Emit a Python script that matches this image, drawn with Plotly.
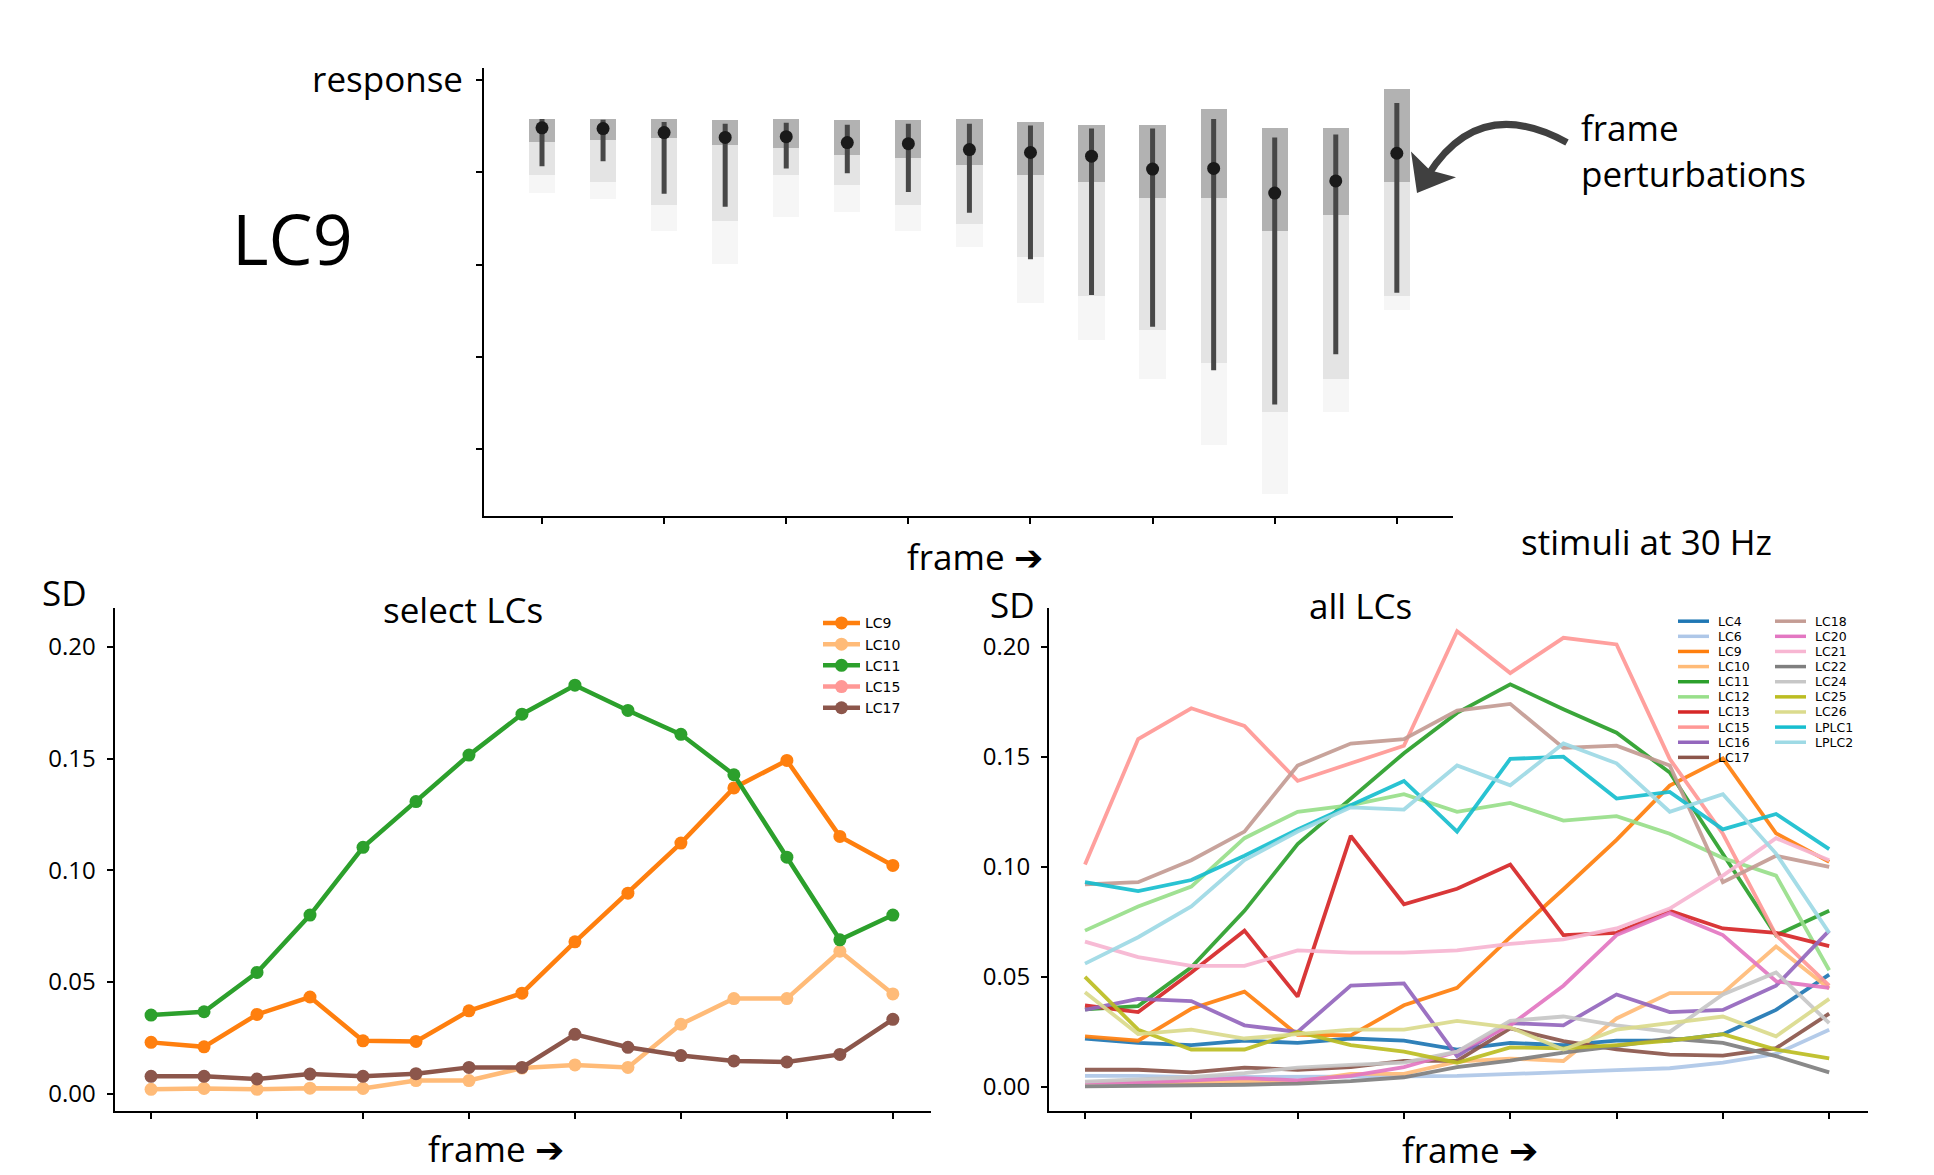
import plotly.graph_objects as go

W, H = 1934, 1175

# ---------------- data ----------------
frames = list(range(15))
frame_ticks = [0, 2, 4, 6, 8, 10, 12, 14]

# top panel: LC9 responses to frame perturbations
lc9_median = [0.871, 0.869, 0.858, 0.845, 0.847, 0.831, 0.828, 0.812, 0.804, 0.794, 0.759, 0.761, 0.694, 0.727, 0.802]
lc9_upper = [0.895, 0.893, 0.887, 0.882, 0.885, 0.879, 0.882, 0.882, 0.877, 0.869, 0.869, 0.895, 0.845, 0.853, 0.938]
lc9_lower = [0.767, 0.780, 0.692, 0.657, 0.761, 0.748, 0.697, 0.641, 0.515, 0.418, 0.332, 0.214, 0.121, 0.257, 0.424]
cloud_top = [0.895, 0.895, 0.895, 0.890, 0.895, 0.890, 0.890, 0.895, 0.885, 0.877, 0.877, 0.922, 0.869, 0.869, 0.976]
cloud_dense_bottom = [0.831, 0.836, 0.842, 0.823, 0.815, 0.796, 0.788, 0.769, 0.743, 0.724, 0.681, 0.681, 0.590, 0.635, 0.724]
cloud_mid_bottom = [0.743, 0.724, 0.662, 0.617, 0.743, 0.716, 0.662, 0.609, 0.520, 0.413, 0.322, 0.233, 0.099, 0.188, 0.413]
cloud_sparse_bottom = [0.694, 0.676, 0.590, 0.501, 0.627, 0.643, 0.590, 0.547, 0.394, 0.295, 0.188, 0.011, -0.123, 0.099, 0.375]
response_tickvals = [0.0, 0.25, 0.5, 0.75, 1.0]
response_ticktext = ["", "", "", "", "response"]

# bottom panels: SD of responses per frame
sd_tickvals = [0.0, 0.05, 0.10, 0.15, 0.20]
sd_LC4 = [0.022, 0.020, 0.019, 0.021, 0.020, 0.022, 0.021, 0.017, 0.020, 0.019, 0.021, 0.021, 0.024, 0.035, 0.051]
sd_LC6 = [0.005, 0.005, 0.0045, 0.0045, 0.0045, 0.0048, 0.0048, 0.005, 0.006, 0.007, 0.0076, 0.0085, 0.011, 0.015, 0.026]
sd_LC9 = [0.023, 0.021, 0.0355, 0.0433, 0.0237, 0.0234, 0.0371, 0.045, 0.068, 0.0898, 0.1122, 0.1369, 0.1492, 0.1152, 0.1022]
sd_LC10 = [0.002, 0.0024, 0.002, 0.0025, 0.0024, 0.0059, 0.0059, 0.0115, 0.0129, 0.0118, 0.0311, 0.0426, 0.0426, 0.0638, 0.0447]
sd_LC11 = [0.0352, 0.0367, 0.0543, 0.080, 0.1103, 0.1308, 0.1516, 0.1699, 0.1829, 0.1716, 0.1609, 0.1428, 0.1059, 0.0689, 0.080]
sd_LC12 = [0.071, 0.082, 0.091, 0.113, 0.125, 0.128, 0.133, 0.125, 0.129, 0.121, 0.123, 0.115, 0.104, 0.096, 0.053]
sd_LC13 = [0.037, 0.034, 0.052, 0.071, 0.041, 0.114, 0.083, 0.090, 0.101, 0.069, 0.070, 0.080, 0.072, 0.070, 0.064]
sd_LC15 = [0.101, 0.158, 0.172, 0.164, 0.139, 0.147, 0.155, 0.207, 0.188, 0.204, 0.201, 0.149, 0.115, 0.069, 0.046]
sd_LC16 = [0.035, 0.040, 0.039, 0.028, 0.025, 0.046, 0.047, 0.014, 0.029, 0.028, 0.042, 0.034, 0.035, 0.046, 0.071]
sd_LC17 = [0.0078, 0.0078, 0.0066, 0.0088, 0.0078, 0.009, 0.0118, 0.0118, 0.0266, 0.0208, 0.0171, 0.0147, 0.0142, 0.0176, 0.0333]
sd_LC18 = [0.092, 0.093, 0.103, 0.116, 0.146, 0.156, 0.158, 0.171, 0.174, 0.154, 0.155, 0.146, 0.093, 0.105, 0.100]
sd_LC20 = [0.002, 0.002, 0.003, 0.004, 0.003, 0.005, 0.009, 0.016, 0.028, 0.046, 0.069, 0.079, 0.069, 0.048, 0.045]
sd_LC21 = [0.066, 0.059, 0.055, 0.055, 0.062, 0.061, 0.061, 0.062, 0.065, 0.067, 0.072, 0.081, 0.096, 0.113, 0.103]
sd_LC22 = [0.0003, 0.0004, 0.0006, 0.001, 0.0015, 0.0026, 0.0044, 0.009, 0.012, 0.0156, 0.0186, 0.022, 0.020, 0.014, 0.0066]
sd_LC24 = [0.0024, 0.0033, 0.0044, 0.0063, 0.0088, 0.010, 0.011, 0.016, 0.030, 0.032, 0.028, 0.025, 0.042, 0.052, 0.029]
sd_LC25 = [0.050, 0.026, 0.017, 0.017, 0.025, 0.019, 0.016, 0.011, 0.018, 0.0175, 0.019, 0.021, 0.024, 0.017, 0.013]
sd_LC26 = [0.043, 0.024, 0.026, 0.022, 0.024, 0.026, 0.026, 0.030, 0.027, 0.017, 0.026, 0.029, 0.032, 0.023, 0.040]
sd_LPLC1 = [0.093, 0.089, 0.094, 0.105, 0.117, 0.128, 0.139, 0.116, 0.149, 0.150, 0.131, 0.134, 0.117, 0.124, 0.108]
sd_LPLC2 = [0.056, 0.068, 0.082, 0.103, 0.116, 0.127, 0.126, 0.146, 0.137, 0.156, 0.147, 0.125, 0.133, 0.106, 0.070]

all_names = ["LC4", "LC6", "LC9", "LC10", "LC11", "LC12", "LC13", "LC15", "LC16", "LC17",
             "LC18", "LC20", "LC21", "LC22", "LC24", "LC25", "LC26", "LPLC1", "LPLC2"]
all_values = [sd_LC4, sd_LC6, sd_LC9, sd_LC10, sd_LC11, sd_LC12, sd_LC13, sd_LC15, sd_LC16, sd_LC17,
              sd_LC18, sd_LC20, sd_LC21, sd_LC22, sd_LC24, sd_LC25, sd_LC26, sd_LPLC1, sd_LPLC2]
select_names = ["LC9", "LC10", "LC11", "LC15", "LC17"]
select_values = [sd_LC9, sd_LC10, sd_LC11, None, sd_LC17]   # LC15 appears in legend only

# ---------------- styles ----------------
colors = {
    "LC4": "#1f77b4", "LC6": "#aec7e8", "LC9": "#ff7f0e", "LC10": "#ffbb78", "LC11": "#2ca02c",
    "LC12": "#98df8a", "LC13": "#d62728", "LC15": "#ff9896", "LC16": "#9467bd", "LC17": "#8c564b",
    "LC18": "#c49c94", "LC20": "#e377c2", "LC21": "#f7b6d2", "LC22": "#7f7f7f", "LC24": "#c7c7c7",
    "LC25": "#bcbd22", "LC26": "#dbdb8d", "LPLC1": "#17becf", "LPLC2": "#9edae5",
}
FONT = "Open Sans"
BIG = 35
TICK = 24
DY = -6   # vertical nudge of the top block


def px(x):
    return x / W


def py(y):
    return 1 - y / H


fig = go.Figure()

# ---- top panel: clouds (density bands), error bars and medians ----
for bottoms, alpha in [(cloud_sparse_bottom, 0.035), (cloud_mid_bottom, 0.07), (cloud_dense_bottom, 0.22)]:
    fig.add_trace(go.Bar(
        x=frames, y=[t - b for t, b in zip(cloud_top, bottoms)], base=bottoms,
        width=0.43, marker=dict(color=f"rgba(0,0,0,{alpha})", line=dict(width=0)),
        xaxis="x", yaxis="y", showlegend=False, hoverinfo="skip"))

fig.add_trace(go.Scatter(
    x=frames, y=lc9_median, mode="markers",
    marker=dict(size=13, color="#1a1a1a"),
    error_y=dict(type="data", symmetric=False,
                 array=[u - m for u, m in zip(lc9_upper, lc9_median)],
                 arrayminus=[m - l for m, l in zip(lc9_median, lc9_lower)],
                 thickness=5, width=0, color="#474747"),
    xaxis="x", yaxis="y", showlegend=False))

# ---- bottom-left panel: select LCs ----
for name, vals in zip(select_names, select_values):
    if vals is None:
        xs, ys = [None], [None]
    else:
        xs, ys = frames, vals
    fig.add_trace(go.Scatter(
        x=xs, y=ys, mode="lines+markers", name=name,
        line=dict(color=colors[name], width=4.5),
        marker=dict(size=13, color=colors[name]),
        xaxis="x2", yaxis="y2", legend="legend"))

# ---- bottom-right panel: all LCs ----
for name, vals in zip(all_names, all_values):
    fig.add_trace(go.Scatter(
        x=frames, y=vals, mode="lines", name=name,
        line=dict(color=colors[name], width=3.8), opacity=0.92,
        xaxis="x3", yaxis="y3", showlegend=False))

axis_common = dict(showline=True, linecolor="black", linewidth=2, ticks="outside", ticklen=6,
                   tickwidth=2, tickcolor="black", showgrid=False, zeroline=False,
                   ticklabelstandoff=6)

fig.update_layout(
    width=W, height=H, autosize=False,
    margin=dict(l=0, r=0, t=0, b=0, pad=0),
    paper_bgcolor="white", plot_bgcolor="white",
    barmode="overlay", bargap=0,
    font=dict(family=FONT, color="black"),
    xaxis=dict(domain=[px(484), px(1453)], range=[-0.95, 14.92], tickvals=frame_ticks,
               showticklabels=False, anchor="y", **axis_common),
    yaxis=dict(domain=[py(515 + DY), py(62 + DY)], range=[-0.182, 1.032], tickvals=response_tickvals,
               ticktext=response_ticktext, tickfont=dict(size=BIG, family=FONT), anchor="x",
               **axis_common),
    xaxis2=dict(domain=[px(114.5), px(931)], range=[-0.69, 14.72], tickvals=frame_ticks,
                showticklabels=False, anchor="y2", **axis_common),
    yaxis2=dict(domain=[py(1110), py(602)], range=[-0.0076, 0.2173], tickvals=sd_tickvals,
                tickformat=".2f", tickfont=dict(size=TICK, family=FONT), anchor="x2", **axis_common),
    xaxis3=dict(domain=[px(1049), px(1868)], range=[-0.677, 14.73], tickvals=frame_ticks,
                showticklabels=False, anchor="y3", **axis_common),
    yaxis3=dict(domain=[py(1110), py(602)], range=[-0.0108, 0.2174], tickvals=sd_tickvals,
                tickformat=".2f", tickfont=dict(size=TICK, family=FONT), anchor="x3", **axis_common),
    legend=dict(x=px(818), y=py(601), xanchor="left", yanchor="top", bgcolor="rgba(0,0,0,0)",
                borderwidth=0, itemsizing="trace", tracegroupgap=0, itemwidth=37,
                font=dict(family="DejaVu Sans", size=14, color="black")),
)

# ---- manual two-column legend for "all LCs" ----
shapes = []
annotations = []
for i, name in enumerate(all_names):
    col, row = (0, i) if i < 10 else (1, i - 10)
    yy = 615 + 15.3 * row
    x0 = 1678 if col == 0 else 1775
    shapes.append(dict(type="line", xref="paper", yref="paper", x0=px(x0), x1=px(x0 + 31),
                       y0=py(yy), y1=py(yy), line=dict(color=colors[name], width=3.5)))
    annotations.append(dict(text=name, x=px(x0 + 38), y=py(yy), xref="paper", yref="paper",
                            showarrow=False, xanchor="left", yanchor="middle",
                            font=dict(family="DejaVu Sans", size=12.5, color="black")))

# ---- curved arrow pointing at the perturbation data ----
shapes.append(dict(type="path", xref="paper", yref="paper",
                   path=(f"M {px(1567)},{py(137 + DY)} Q {px(1479)},{py(88 + DY)} "
                         f"{px(1428)},{py(170 + DY)}"),
                   line=dict(color="#404040", width=7)))
shapes.append(dict(type="path", xref="paper", yref="paper",
                   path=(f"M {px(1411)},{py(146 + DY)} L {px(1417)},{py(188 + DY)} "
                         f"L {px(1456)},{py(172 + DY)} L {px(1430)},{py(165 + DY)} Z"),
                   fillcolor="#404040", line=dict(width=0)))


def label(text, x, y, size=BIG, xanchor="center"):
    annotations.append(dict(text=text, x=px(x), y=py(y), xref="paper", yref="paper",
                            showarrow=False, xanchor=xanchor, yanchor="middle",
                            font=dict(family=FONT, size=size, color="black")))


label("LC9", 292, 234 + DY, size=70)
label("frame ➔", 975, 550)
label("stimuli at 30 Hz", 1646, 534)
label("frame", 1579, 122 + DY, xanchor="left")
label("perturbations", 1579, 168 + DY, xanchor="left")
label("SD", 64, 586)
label("select LCs", 463, 603)
label("frame ➔", 496, 1148)
label("SD", 1012, 598)
label("all LCs", 1360, 599)
label("frame ➔", 1470, 1149)

fig.update_layout(shapes=shapes, annotations=annotations)

fig.write_html("out.html", config={"displayModeBar": False},
               post_script="document.body.style.margin='0';document.body.style.overflow='hidden';")
